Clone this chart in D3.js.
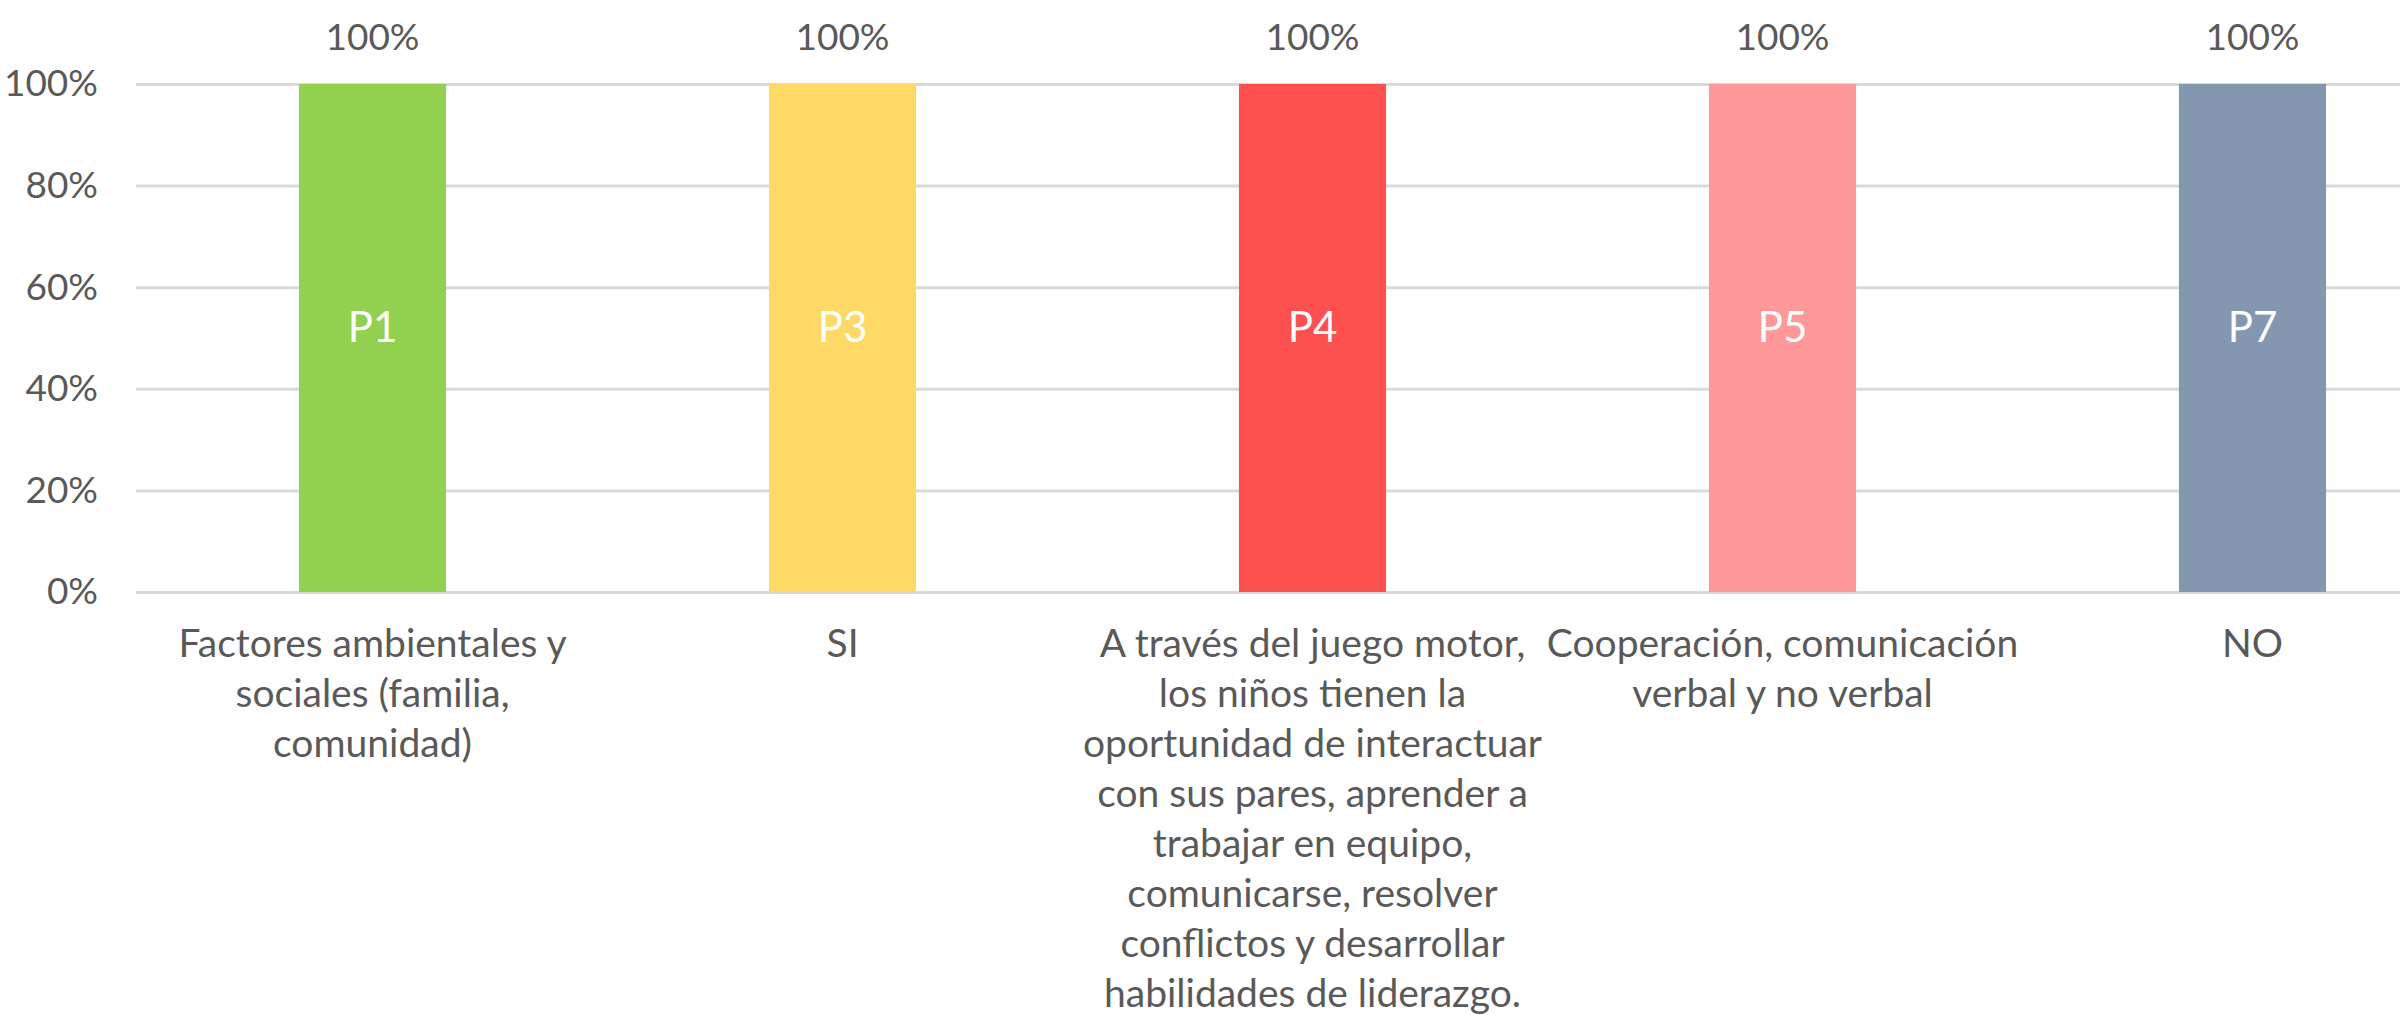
<!DOCTYPE html>
<html>
<head>
<meta charset="utf-8">
<script src="https://cdn.jsdelivr.net/npm/d3@7"></script>
<style>
  html, body { margin: 0; padding: 0; background: #fff; }
  svg { display: block; font-family: Lato, "Open Sans", sans-serif; }
</style>
</head>
<body>
<svg id="chart" width="2400" height="1015"></svg>
<script>
// ---- data ----
const categories = [
  "Factores ambientales y\nsociales (familia,\ncomunidad)",
  "SI",
  "A través del juego motor,\nlos niños tienen la\noportunidad de interactuar\ncon sus pares, aprender a\ntrabajar en equipo,\ncomunicarse, resolver\nconflictos y desarrollar\nhabilidades de liderazgo.",
  "Cooperación, comunicación\nverbal y no verbal",
  "NO"
];
const seriesNames = ["P1", "P3", "P4", "P5", "P7"];
const values = [1, 1, 1, 1, 1];
const barColors = ["#92D050", "#FFD966", "#FF5050", "#FF9999", "#8497B0"];
const yTicks = [0, 0.2, 0.4, 0.6, 0.8, 1];

// ---- layout ----
const svg = d3.select("#chart");
const margin = { left: 137.5, top: 84, bottom: 592 };
const plotRight = margin.left + 2350; // plot area extends past the visible edge
const textColor = "#595959";

const x = d3.scaleBand()
  .domain(categories)
  .range([margin.left, plotRight])
  .paddingInner(0.687)
  .paddingOuter(0.687 / 2);

const y = d3.scaleLinear().domain([0, 1]).range([margin.bottom, margin.top]);

// gridlines + y labels
const yAxis = d3.axisLeft(y)
  .tickValues(yTicks)
  .tickFormat(d3.format(".0%"))
  .tickSizeInner(-(plotRight - margin.left))
  .tickSizeOuter(0)
  .tickPadding(38);

const gy = svg.append("g")
  .attr("transform", `translate(${margin.left - 1.5},0)`)
  .call(yAxis);
gy.select(".domain").remove();
gy.selectAll(".tick line").attr("stroke", "#D9D9D9").attr("stroke-width", 3);
gy.selectAll(".tick text")
  .attr("fill", textColor)
  .attr("font-size", 37)
  .attr("font-family", "Lato, sans-serif");

// bars
const data = categories.map((c, i) => ({ cat: c, name: seriesNames[i], v: values[i], color: barColors[i] }));

svg.append("g").selectAll("rect")
  .data(data)
  .join("rect")
  .attr("x", d => x(d.cat))
  .attr("width", x.bandwidth())
  .attr("y", d => y(d.v))
  .attr("height", d => y(0) - y(d.v))
  .attr("fill", d => d.color);

// value labels above bars
svg.append("g").selectAll("text")
  .data(data)
  .join("text")
  .attr("x", d => x(d.cat) + x.bandwidth() / 2)
  .attr("y", d => y(d.v) - 34)
  .attr("text-anchor", "middle")
  .attr("fill", textColor)
  .attr("font-size", 37)
  .text(d => d3.format(".0%")(d.v));

// series name labels inside bars
svg.append("g").selectAll("text")
  .data(data)
  .join("text")
  .attr("x", d => x(d.cat) + x.bandwidth() / 2)
  .attr("y", d => y(d.v / 2) + 4)
  .attr("text-anchor", "middle")
  .attr("fill", "#FFFFFF")
  .attr("font-size", 42)
  .text(d => d.name);

// category axis labels
const xAxis = d3.axisBottom(x).tickSize(0).tickPadding(0);
const gx = svg.append("g")
  .attr("transform", `translate(0,${margin.bottom})`)
  .call(xAxis);
gx.select(".domain").remove();
gx.selectAll(".tick text").each(function(d) {
  const t = d3.select(this);
  t.text(null)
    .attr("fill", textColor)
    .attr("font-size", 39)
    .attr("font-family", "Lato, sans-serif")
    .attr("dy", null)
    .attr("y", 65);
  d.split("\n").forEach((line, i) => {
    t.append("tspan")
      .attr("x", 0)
      .attr("y", 65 + i * 50)
      .text(line);
  });
});
</script>
</body>
</html>
